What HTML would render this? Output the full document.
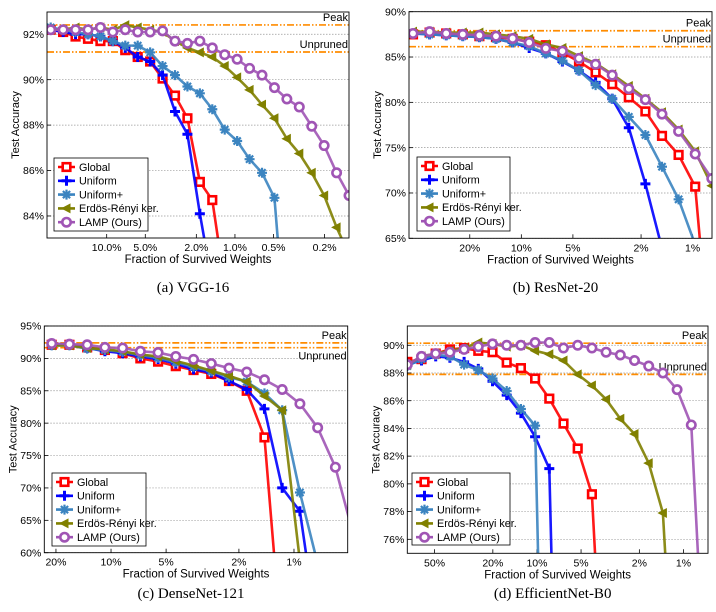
<!DOCTYPE html>
<html><head><meta charset="utf-8"><style>
html,body{margin:0;padding:0;background:#fff;overflow:hidden;width:716px;height:612px;}
svg{display:block;font-family:"Liberation Sans",sans-serif;}
</style></head><body>
<svg id="fig" width="716" height="612" viewBox="0 0 716 612" xmlns="http://www.w3.org/2000/svg"></svg>
<script>
// ---- Panel (a) VGG-16 ----
const aGlobal=[92.2,92.1,91.9,91.8,91.7,91.7,91.3,91.0,90.8,90.05,89.3,88.3,85.5,84.7,81];
const aUniform=[92.2,92.1,92.0,92.0,91.9,91.7,91.4,91.0,90.8,90.2,88.6,87.6,84.1,81];
const aUniformPlus=[92.3,92.2,92.1,92.0,91.9,91.7,91.5,91.5,91.2,90.6,90.2,89.7,89.4,88.7,87.8,87.3,86.5,85.9,84.8,78];
const aERK=[92.2,92.2,92.3,92.2,92.3,92.2,92.4,92.3,92.2,92.1,91.7,91.4,91.2,91.0,90.6,90.1,89.55,88.9,88.3,87.4,86.75,85.9,84.9,83.5,82.3];
const aLAMP=[92.2,92.2,92.2,92.2,92.3,92.1,92.2,92.1,92.1,92.15,91.7,91.6,91.7,91.4,91.1,90.9,90.5,90.2,89.65,89.15,88.8,87.95,87.1,85.9,84.9];
const aYTicks=[84,86,88,90,92];
const aXTickVals=[0.10,0.05,0.02,0.01,0.005,0.002];
const aXTickLabels=['10.0%','5.0%','2.0%','1.0%','0.5%','0.2%'];
const aPeak=92.41, aUnpruned=91.22;
// ---- Panel (b) ResNet-20 ----
const bGlobal=[87.5,87.7,87.6,87.5,87.3,87.2,87.0,86.7,86.3,85.5,84.5,83.3,82.0,80.55,79.0,76.3,74.2,70.7,50];
const bUniform=[87.6,87.5,87.4,87.3,87.2,87.0,86.6,86.0,85.4,84.5,83.5,82.2,80.4,77.2,71.0,63.9];
const bUniformPlus=[87.6,87.5,87.4,87.3,87.2,87.0,86.6,86.2,85.4,84.6,83.5,81.9,80.4,78.4,76.4,72.9,69.3,64.3];
const bERK=[87.8,87.8,87.7,87.7,87.7,87.5,87.3,87.0,86.4,86.0,85.1,84.3,83.1,81.8,80.4,78.9,77.0,74.6,70.8];
const bLAMP=[87.6,87.8,87.6,87.5,87.4,87.3,87.05,86.6,85.95,85.65,84.85,84.2,83.0,81.5,80.3,78.7,76.8,74.3,71.6];
const bYTicks=[65,70,75,80,85,90];
const bXTickVals=[0.2,0.1,0.05,0.02,0.01];
const bXTickLabels=['20%','10%','5%','2%','1%'];
const bPeak=87.9, bUnpruned=86.14;
// ---- Panel (c) DenseNet-121 ----
const cGlobal=[92.1,92.1,91.7,91.3,90.8,90.0,89.5,88.8,88.2,87.6,86.5,85.0,77.8,44.6];
const cUniform=[92.1,92.1,91.6,91.1,90.8,90.3,89.9,89.2,88.3,87.8,86.5,85.2,82.2,70.0,66.4,47.5];
const cUniformPlus=[92.0,92.0,91.5,91.3,91.0,90.5,90.1,89.4,88.7,88.0,87.1,86.4,84.6,82.0,69.3,58.3];
const cERK=[92.0,92.0,91.6,91.4,91.1,90.6,90.3,89.6,88.9,88.1,87.3,86.4,84.2,82.0,58.7];
const cLAMP=[92.3,92.2,92.1,91.7,91.6,91.1,90.9,90.3,89.85,89.2,88.5,87.9,86.7,85.2,83.0,79.3,73.2,62.9];
const cYTicks=[60,65,70,75,80,85,90,95];
const cXTickVals=[0.2,0.1,0.05,0.02,0.01];
const cXTickLabels=['20%','10%','5%','2%','1%'];
const cPeak=92.4, cUnpruned=91.65;
// ---- Panel (d) EfficientNet-B0 ----
const dGlobal=[88.8,89.0,89.4,89.7,89.8,89.6,89.5,88.75,88.35,87.6,86.15,84.35,82.55,79.25,60];
const dUniform=[88.6,88.9,89.2,89.1,88.8,88.3,87.4,86.4,85.1,83.4,81.1,40];
const dUniformPlus=[88.5,89.0,89.3,89.2,88.6,88.2,87.6,86.7,85.4,84.2,40];
const dERK=[88.6,89.2,89.4,89.6,89.8,90.2,90.1,89.9,90.0,89.6,89.35,88.9,87.9,87.1,86.1,84.7,83.6,81.5,77.9,60];
const dLAMP=[88.6,89.2,89.4,89.5,89.7,89.9,90.1,90.0,90.0,90.2,90.2,89.8,90.0,89.8,89.5,89.3,88.9,88.5,88.0,86.8,84.25,64.4];
const dYTicks=[76,78,80,82,84,86,88,90];
const dXTickVals=[0.5,0.2,0.1,0.05,0.02,0.01];
const dXTickLabels=['50%','20%','10%','5%','2%','1%'];
const dPeak=90.15, dUnpruned=87.9;

const NS='http://www.w3.org/2000/svg';
const svg=document.getElementById('fig');
const COLORS={g:'#ff0000',u:'#0000ff',up:'#3b84c0',e:'#808000',l:'#a055b5'};
const ORANGE='#ff8c00';

function mk(tag,attrs,parent){const el=document.createElementNS(NS,tag);for(const k in attrs)el.setAttribute(k,attrs[k]);(parent||svg).appendChild(el);return el;}

function marker(g,type,x,y,c){
  let m;
  if(type==='sq'){m=mk('rect',{x:x-3.8,y:y-3.8,width:7.6,height:7.6,fill:'#fff',stroke:c,'stroke-width':2.6},g);}
  else if(type==='plus'){m=mk('path',{d:`M${x-5},${y}H${x+5}M${x},${y-5}V${y+5}`,stroke:c,'stroke-width':3,fill:'none'},g);}
  else if(type==='star'){m=mk('path',{d:`M${x-5},${y}H${x+5}M${x},${y-5}V${y+5}M${x-3.6},${y-3.6}L${x+3.6},${y+3.6}M${x-3.6},${y+3.6}L${x+3.6},${y-3.6}`,stroke:c,'stroke-width':2.2,fill:'none'},g);}
  else if(type==='tri'){m=mk('polygon',{points:`${x-5.5},${y} ${x+4},${y-5} ${x+4},${y+5}`,fill:c},g);}
  else {m=mk('circle',{cx:x,cy:y,r:4.2,fill:'#fff',stroke:c,'stroke-width':2.6},g);}
  return m;
}

const SERIES_META=[
  {k:'Global',c:COLORS.g,t:'sq',label:'Global',name:'global'},
  {k:'Uniform',c:COLORS.u,t:'plus',label:'Uniform',name:'uniform'},
  {k:'UniformPlus',c:COLORS.up,t:'star',label:'Uniform+',name:'uniform-plus'},
  {k:'ERK',c:COLORS.e,t:'tri',label:'Erdös-Rényi ker.',name:'erdos-renyi-kernel'},
  {k:'LAMP',c:COLORS.l,t:'circ',label:'LAMP (Ours)',name:'lamp'}
];

const panels=[
 {id:'a',L:47,R:349,T:12,B:238,ymin:83.03,ymax:92.98,x0:50.7,step:12.43,f0:0.2732,
  data:{Global:aGlobal,Uniform:aUniform,UniformPlus:aUniformPlus,ERK:aERK,LAMP:aLAMP},
  yt:aYTicks,xv:aXTickVals,xl:aXTickLabels,peak:aPeak,unp:aUnpruned,
  leg:{x:54,y:158,w:94,h:73},cap:'(a)  VGG-16',capY:292,peakY:-4,unpY:-4},
 {id:'b',L:409,R:712,T:11.7,B:238.3,ymin:65,ymax:90,x0:413,step:16.6,f0:0.429,
  data:{Global:bGlobal,Uniform:bUniform,UniformPlus:bUniformPlus,ERK:bERK,LAMP:bLAMP},
  yt:bYTicks,xv:bXTickVals,xl:bXTickLabels,peak:bPeak,unp:bUnpruned,
  leg:{x:417,y:157,w:93,h:74},cap:'(b)  ResNet-20',capY:292,peakY:-4,unpY:-4},
 {id:'c',L:44.3,R:347.7,T:326,B:552.7,ymin:60,ymax:95,x0:51.7,step:17.73,f0:0.211,
  data:{Global:cGlobal,Uniform:cUniform,UniformPlus:cUniformPlus,ERK:cERK,LAMP:cLAMP},
  yt:cYTicks,xv:cXTickVals,xl:cXTickLabels,peak:cPeak,unp:cUnpruned,
  leg:{x:52,y:473,w:94,h:73},cap:'(c)  DenseNet-121',capY:598,peakY:-4,unpY:12},
 {id:'d',L:407.3,R:708,T:326,B:553.3,ymin:74.99,ymax:91.39,x0:407.3,step:14.2,f0:0.767,
  data:{Global:dGlobal,Uniform:dUniform,UniformPlus:dUniformPlus,ERK:dERK,LAMP:dLAMP},
  yt:dYTicks,xv:dXTickVals,xl:dXTickLabels,peak:dPeak,unp:dUnpruned,
  leg:{x:412,y:473,w:98,h:72},cap:'(d)  EfficientNet-B0',capY:598,peakY:-4,unpY:-4}
];

panels.forEach(p=>{
  const yS=v=>p.B-(v-p.ymin)/(p.ymax-p.ymin)*(p.B-p.T);
  const xI=i=>p.x0+i*p.step;
  const xF=f=>xI(Math.log(f/p.f0)/Math.log(0.8));
  const g=mk('g',{});
  
  
  const cp=mk('clipPath',{id:'clip-'+p.id},g);
  mk('rect',{x:p.L,y:p.T,width:p.R-p.L,height:p.B-p.T},cp);
  p.yt.forEach(v=>{
    const y=yS(v);
    const gl=mk('line',{x1:p.L,x2:p.R,y1:y,y2:y,stroke:'#999','stroke-width':0.7,'stroke-dasharray':'1.5,1.5'},g);
    
    
    mk('line',{x1:p.L,x2:p.L+4,y1:y,y2:y,stroke:'#000','stroke-width':0.8},g);
    const t=mk('text',{x:p.L-3,y:y+3.6,'text-anchor':'end','font-size':10.5,fill:'#000'},g);
    t.textContent=v+'%';
    
    
  });
  p.xv.forEach((f,j)=>{
    const x=xF(f);
    mk('line',{x1:x,x2:x,y1:p.B,y2:p.B-4,stroke:'#000','stroke-width':0.8},g);
    const t=mk('text',{x:x,y:p.B+13,'text-anchor':'middle','font-size':10.5,fill:'#000'},g);
    t.textContent=p.xl[j];
    
    
  });
  [[p.peak,'Peak','peak-line',p.peakY],[p.unp,'Unpruned','unpruned-line',p.unpY]].forEach(r=>{
    const y=yS(r[0]);
    const ln=mk('line',{x1:p.L,x2:p.R,y1:y,y2:y,stroke:ORANGE,'stroke-width':1.7,'stroke-dasharray':'7,2,1.5,2,1.5,2'},g);
    
    
    const t=mk('text',{x:p.R-1,y:y+r[3],'text-anchor':'end','font-size':11,fill:'#000'},g);
    t.textContent=r[1];
    
    
  });
  const sg=mk('g',{'clip-path':'url(#clip-'+p.id+')'},g);
  SERIES_META.forEach(s=>{
    const vals=p.data[s.k];
    // build polyline points, truncated where it leaves the bottom of the plot
    const pts=[];
    for(let i=0;i<vals.length;i++){
      const x=xI(i), y=yS(vals[i]);
      if(y<=p.B){pts.push([x,y]);continue;}
      if(i>0){
        const px=xI(i-1), py=yS(vals[i-1]);
        const t=(p.B-py)/(y-py);
        pts.push([px+(x-px)*t,p.B]);
      }
      break;
    }
    const pl=mk('polyline',{points:pts.map(q=>q[0].toFixed(2)+','+q[1].toFixed(2)).join(' '),fill:'none',stroke:s.c,'stroke-width':2.6,'stroke-linejoin':'round','stroke-opacity':0.9},sg);
    
    
    vals.forEach((v,i)=>{
      const y=yS(v);
      if(y>p.B+2) return;
      const m=marker(sg,s.t,xI(i),y,s.c);
      
      
    });
  });
  const fr=mk('rect',{x:p.L,y:p.T,width:p.R-p.L,height:p.B-p.T,fill:'none',stroke:'#000','stroke-width':0.9},g);
  
  
  const yt=mk('text',{x:0,y:0,'text-anchor':'middle','font-size':11,fill:'#000',transform:`translate(${p.L-28},${(p.T+p.B)/2}) rotate(-90)`},g);
  yt.textContent='Test Accuracy';
  
  
  const xt=mk('text',{x:(p.L+p.R)/2,y:p.B+25,'text-anchor':'middle','font-size':11.5,fill:'#000'},g);
  xt.textContent='Fraction of Survived Weights';
  
  
  const cap=mk('text',{x:(p.L+p.R)/2-5,y:p.capY,'text-anchor':'middle','font-size':15,fill:'#000','font-family':'Liberation Serif, serif'},g);
  cap.textContent=p.cap;
  
  
  const lg=mk('g',{},g);
  
  
  mk('rect',{x:p.leg.x,y:p.leg.y,width:p.leg.w,height:p.leg.h,fill:'#fff',stroke:'#000','stroke-width':0.8},lg);
  SERIES_META.forEach((s,i)=>{
    const y=p.leg.y+9+i*13.8;
    const e=mk('g',{},lg);
    
    
    mk('line',{x1:p.leg.x+4,x2:p.leg.x+21,y1:y,y2:y,stroke:s.c,'stroke-width':2.6},e);
    marker(e,s.t,p.leg.x+12.5,y,s.c);
    const t=mk('text',{x:p.leg.x+25,y:y+3.8,'font-size':10.8,fill:'#000'},e);
    t.textContent=s.label;
  });
});
</script>
</body></html>
